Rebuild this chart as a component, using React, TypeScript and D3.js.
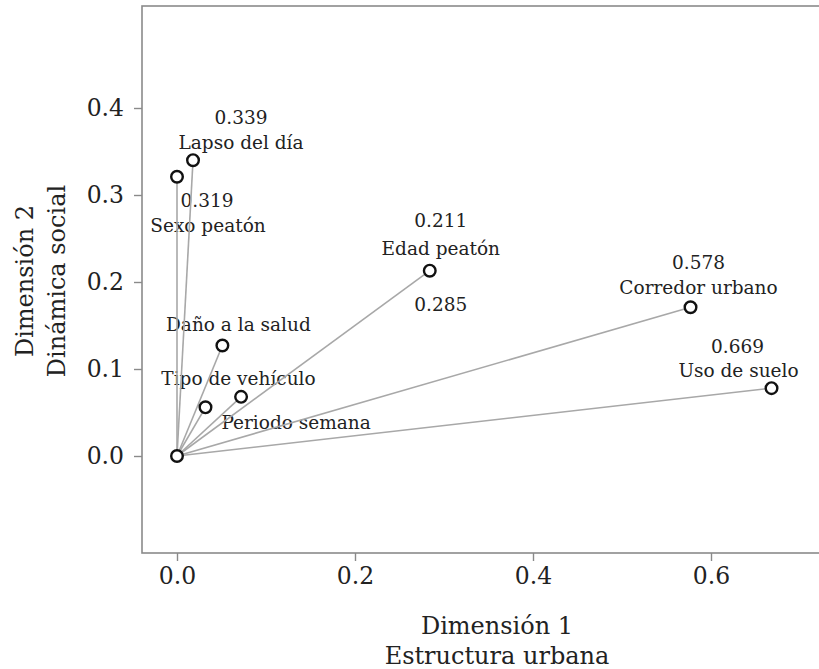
import React, { useEffect, useRef } from "react";
import * as d3 from "d3";

// variables in the biplot (dimension 1, dimension 2)
const names = [
  "Lapso del día",
  "Sexo peatón",
  "Edad peatón",
  "Corredor urbano",
  "Uso de suelo",
  "Daño a la salud",
  "Tipo de vehículo",
  "Periodo semana",
];
const dim1 = [0.018, 0.0, 0.284, 0.577, 0.668, 0.051, 0.032, 0.072];
const dim2 = [0.34, 0.321, 0.213, 0.171, 0.078, 0.127, 0.056, 0.068];

// numbers written next to some of the variables
const noteNames = ["Lapso del día", "Sexo peatón", "Edad peatón", "Edad peatón", "Corredor urbano", "Uso de suelo"];
const noteTexts = ["0.339", "0.319", "0.211", "0.285", "0.578", "0.669"];

const xTicks = [0.0, 0.2, 0.4, 0.6];
const yTicks = [0.0, 0.1, 0.2, 0.3, 0.4];

// label placement relative to each point, in pixels
const nameOffsets = [
  [48, -11],
  [31, 55],
  [11, -16],
  [8, -13],
  [-33, -11],
  [16, -15],
  [33, -22],
  [55, 32],
];
const noteOffsets = [
  [48, -36],
  [30, 30],
  [11, -44],
  [11, 40],
  [8, -38],
  [-34, -35],
];

const W = 819;
const H = 669;
const FONT = "'DejaVu Serif', serif";

export default function App() {
  const ref = useRef<SVGSVGElement | null>(null);

  useEffect(() => {
    if (!ref.current) return;
    const svg = d3.select(ref.current);
    svg.selectAll("*").remove();

    const left = 142;
    const top = 6;
    const bottom = 553;
    const right = 830;

    const x = d3.scaleLinear().domain([0, 0.6]).range([177, 711]);
    const y = d3.scaleLinear().domain([0, 0.4]).range([456, 108]);

    // frame
    svg
      .append("rect")
      .attr("x", left)
      .attr("y", top)
      .attr("width", right - left)
      .attr("height", bottom - top)
      .attr("fill", "none")
      .attr("stroke", "#8a8a8a")
      .attr("stroke-width", 1.6);

    // x axis
    const gx = svg
      .append("g")
      .attr("transform", `translate(0,${bottom})`)
      .call(d3.axisBottom(x).tickValues(xTicks).tickFormat(d3.format(".1f")).tickSize(8).tickPadding(6));
    gx.select(".domain").remove();
    gx.selectAll("line").attr("stroke", "#8a8a8a").attr("stroke-width", 1.4);
    gx.selectAll("text")
      .attr("font-family", FONT)
      .attr("font-size", 23.5)
      .attr("fill", "#222");

    // y axis
    const gy = svg
      .append("g")
      .attr("transform", `translate(${left},0)`)
      .call(d3.axisLeft(y).tickValues(yTicks).tickFormat(d3.format(".1f")).tickSize(8).tickPadding(10));
    gy.select(".domain").remove();
    gy.selectAll("line").attr("stroke", "#8a8a8a").attr("stroke-width", 1.4);
    gy.selectAll("text")
      .attr("font-family", FONT)
      .attr("font-size", 23.5)
      .attr("fill", "#222");

    // axis titles
    const xt = svg
      .append("text")
      .attr("text-anchor", "middle")
      .attr("font-family", FONT)
      .attr("font-size", 24)
      .attr("fill", "#222");
    xt.append("tspan").attr("x", 497).attr("y", 634).text("Dimensión 1");
    xt.append("tspan").attr("x", 497).attr("y", 664).text("Estructura urbana");

    const yt = svg
      .append("text")
      .attr("text-anchor", "middle")
      .attr("font-family", FONT)
      .attr("font-size", 24)
      .attr("fill", "#222")
      .attr("transform", "rotate(-90)");
    yt.append("tspan").attr("x", -281).attr("y", 33).text("Dimensión 2");
    yt.append("tspan").attr("x", -281).attr("y", 65).text("Dinámica social");

    // labels
    svg
      .append("g")
      .selectAll("text.name")
      .data(names)
      .join("text")
      .attr("class", "name")
      .attr("x", (d, i) => x(dim1[i]) + nameOffsets[i][0])
      .attr("y", (d, i) => y(dim2[i]) + nameOffsets[i][1])
      .attr("text-anchor", "middle")
      .attr("font-family", FONT)
      .attr("font-size", 18.5)
      .attr("fill", "#222")
      .text((d) => d);

    svg
      .append("g")
      .selectAll("text.note")
      .data(noteTexts)
      .join("text")
      .attr("class", "note")
      .attr("x", (d, i) => x(dim1[names.indexOf(noteNames[i])]) + noteOffsets[i][0])
      .attr("y", (d, i) => y(dim2[names.indexOf(noteNames[i])]) + noteOffsets[i][1])
      .attr("text-anchor", "middle")
      .attr("font-family", FONT)
      .attr("font-size", 18.5)
      .attr("fill", "#222")
      .text((d) => d);

    // vectors from the origin
    svg
      .append("g")
      .selectAll("line")
      .data(names)
      .join("line")
      .attr("x1", x(0))
      .attr("y1", y(0))
      .attr("x2", (d, i) => x(dim1[i]))
      .attr("y2", (d, i) => y(dim2[i]))
      .attr("stroke", "#a8a8a8")
      .attr("stroke-width", 1.6);

    // points
    const pts = [[0, 0], ...names.map((d, i) => [dim1[i], dim2[i]])];
    svg
      .append("g")
      .selectAll("circle")
      .data(pts)
      .join("circle")
      .attr("cx", (d) => x(d[0]))
      .attr("cy", (d) => y(d[1]))
      .attr("r", 5.8)
      .attr("fill", "white")
      .attr("stroke", "#111")
      .attr("stroke-width", 2.4);
  }, []);

  return (
    <div style={{ position: "absolute", left: 0, top: 0, width: W, height: H, background: "white" }}>
      <svg ref={ref} width={W} height={H} />
    </div>
  );
}
